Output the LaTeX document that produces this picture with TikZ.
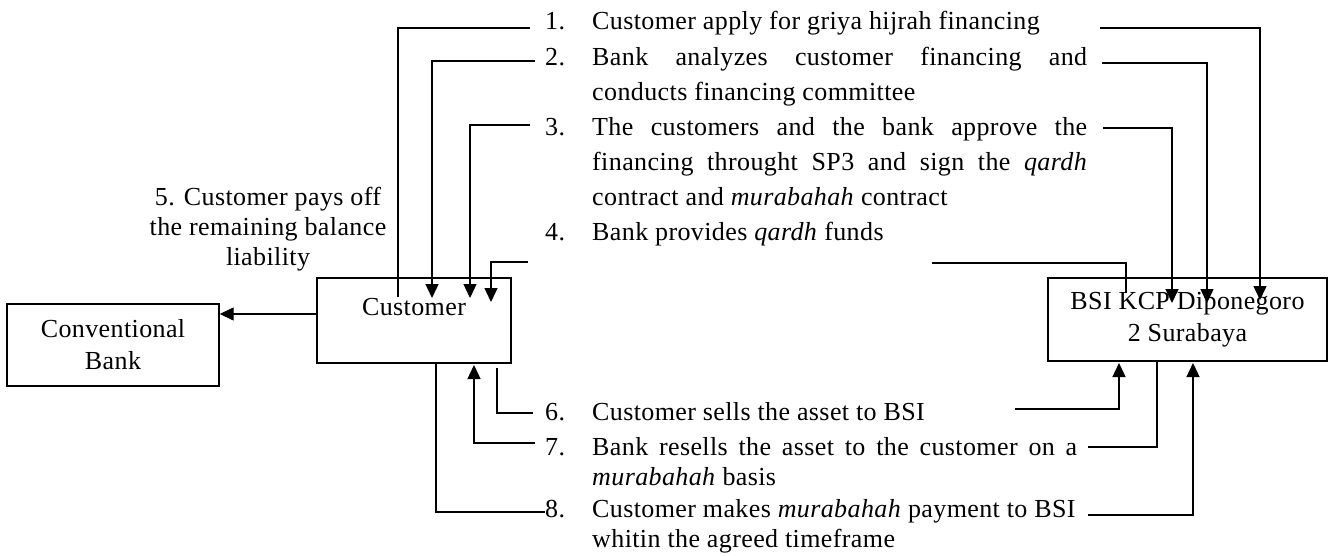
\documentclass[tikz,border=0pt]{standalone}
\usepackage{fontspec}
\setmainfont{Liberation Serif}[LetterSpace=1.5]
\usetikzlibrary{arrows.meta}
\begin{document}
\begin{tikzpicture}[x=1pt,y=-1pt,
  box/.style={draw,line width=1.4pt,inner sep=0pt,align=center,font=\fontsize{26}{32}\selectfont},
  conn/.style={line width=1.4pt},
  arr/.style={conn,-{Triangle[length=14pt,width=13pt]}},
  txt/.style={anchor=base west,inner sep=0pt,font=\fontsize{26}{35}\selectfont},
  lbl/.style={anchor=base,inner sep=0pt,font=\fontsize{26}{30}\selectfont}]
\useasboundingbox (0,0) rectangle (1331,555);

% boxes
\node[box,anchor=base,minimum width=194pt,text height=37pt,text depth=48pt] (cust) at (414,315) {Customer};
\node[box,minimum width=279pt,minimum height=83pt] (bsi) at (1187.5,319.5) {BSI KCP Diponegoro\\2 Surabaya};
\node[box,minimum width=212pt,minimum height=82pt] (conv) at (113,345) {Conventional\\Bank};

% numbers
\node[txt] (n1) at (545,29) {1.};
\node[txt] (n2) at (545,65) {2.};
\node[txt] (n3) at (545,135) {3.};
\node[txt] (n4) at (545,240) {4.};
\node[txt] (n6) at (545,420) {6.};
\node[txt] (n7) at (545,455) {7.};
\node[txt] (n8) at (545,517) {8.};

% texts
\node[txt] (t1) at (592,29) {Customer apply for griya hijrah financing};
\node[txt] (t2a) at (592,65) {\makebox[495pt][s]{Bank analyzes customer financing and}};
\node[txt] (t2b) at (592,100) {conducts financing committee};
\node[txt] (t3a) at (592,135) {\makebox[495pt][s]{The customers and the bank approve the}};
\node[txt] (t3b) at (592,170) {\makebox[495pt][s]{financing throught SP3 and sign the \textit{qardh}}};
\node[txt] (t3c) at (592,205) {contract and \textit{murabahah} contract};
\node[txt] (t4) at (592,240) {Bank provides \textit{qardh} funds};
\node[txt] (t6) at (592,420) {Customer sells the asset to BSI};
\node[txt] (t7a) at (592,455) {\makebox[485pt][s]{Bank resells the asset to the customer on a}};
\node[txt] (t7b) at (592,485) {\textit{murabahah} basis};
\node[txt] (t8a) at (592,517) {Customer makes \textit{murabahah} payment to BSI};
\node[txt] (t8b) at (592,547) {whitin the agreed timeframe};

% label 5
\node[lbl] (l5a) at (268,205) {5. Customer pays off};
\node[lbl] (l5b) at (268,235) {the remaining balance};
\node[lbl] (l5c) at (268,265) {liability};

% connector 1
\coordinate (c1s) at (398,297);
\coordinate (c1e) at (530,28);
\draw[conn] (c1s) |- (c1e);
\coordinate (b1s) at (1100,28);
\coordinate (b1e) at (1260,300);
\draw[arr] (b1s) -| (b1e);
% connector 2
\coordinate (c2s) at (535,61);
\coordinate (c2e) at (432,298);
\draw[arr] (c2s) -| (c2e);
\coordinate (b2s) at (1102,63);
\coordinate (b2e) at (1207,303);
\draw[arr] (b2s) -| (b2e);
% connector 3
\coordinate (c3s) at (530,125);
\coordinate (c3e) at (470,298);
\draw[arr] (c3s) -| (c3e);
\coordinate (b3s) at (1103,128);
\coordinate (b3e) at (1172,303);
\draw[arr] (b3s) -| (b3e);
% connector 4
\coordinate (b4s) at (1126,293);
\coordinate (b4e) at (932,263);
\draw[conn] (b4s) |- (b4e);
\coordinate (c4s) at (528,262);
\coordinate (c4e) at (491,302);
\draw[arr] (c4s) -| (c4e);
% connector 5
\draw[arr] (cust.west |- 0,314) -- (conv.east |- 0,314);
% connector 6
\coordinate (c6s) at (497,368);
\coordinate (c6e) at (533,413);
\draw[conn] (c6s) |- (c6e);
\coordinate (b6s) at (1015,409);
\coordinate (b6e) at (1119,363);
\draw[arr] (b6s) -| (b6e);
% connector 7
\coordinate (b7s) at (1157,361);
\coordinate (b7e) at (1088,447);
\draw[conn] (b7s) |- (b7e);
\coordinate (c7s) at (535,443);
\coordinate (c7e) at (474,365);
\draw[arr] (c7s) -| (c7e);
% connector 8
\coordinate (c8s) at (436,363);
\coordinate (c8e) at (545,512);
\draw[conn] (c8s) |- (c8e);
\coordinate (b8s) at (1088,515);
\coordinate (b8e) at (1193,363);
\draw[arr] (b8s) -| (b8e);
\end{tikzpicture}
\end{document}
